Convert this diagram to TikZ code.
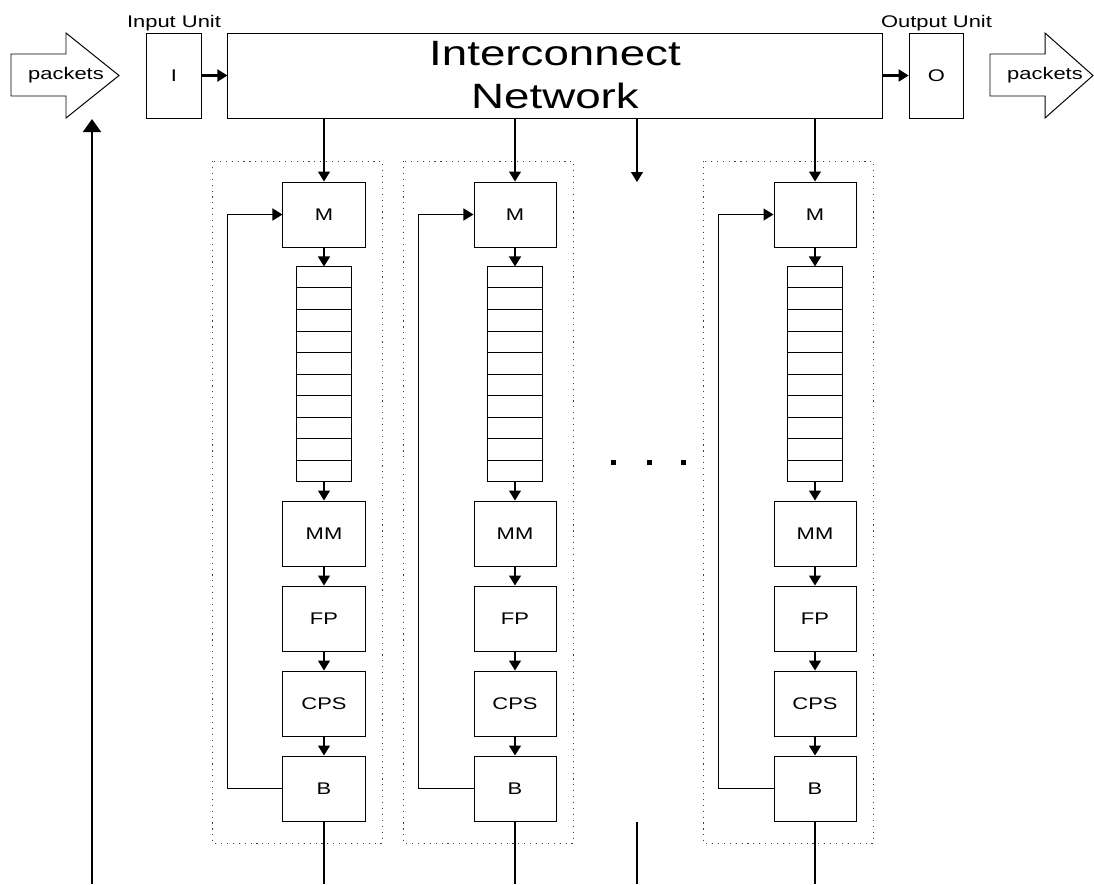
\documentclass[tikz,border=0pt]{standalone}
\usepackage{fontspec}
\setmainfont[FakeStretch=1.3]{Liberation Sans}
\usetikzlibrary{arrows.meta,calc,positioning}

\begin{document}
\begin{tikzpicture}[x=0.025cm,y=-0.025cm,
      font=\fontsize{12}{14}\selectfont,
      >={Triangle[length=0.25cm,width=0.3cm]},
      blk/.style={draw,line width=0.7pt,minimum width=2.05cm,minimum height=1.625cm,inner sep=0pt},
      unit/.style={draw,line width=0.7pt,minimum width=1.37cm,minimum height=2.125cm,inner sep=0pt},
      lnk/.style={line width=1pt},
      grp/.style={line width=0.6pt,dash pattern=on 0.8pt off 3.4pt,black!75}]
    \useasboundingbox (0,0) rectangle (1094,884);
    \coordinate (bot) at (0,884);
    % --- input / output ---
    \draw[line width=0.7pt] (11,54) -- (66,54) -- (66,33) -- (119,75.5) -- (66,118) -- (66,96) -- (11,96) -- cycle;
    \node (pin) at (66,75.5) {packets};
    \node[unit] (in) at (174,75.5) {I};
    \node[inner sep=0pt,above=0.04cm of in] (inlbl) {Input Unit};
    \node[draw,line width=0.7pt,minimum width=16.35cm,minimum height=2.125cm,align=center,
      font=\fontsize{25}{30.5}\selectfont] (net) at (555,75.5) {Interconnect\\Network};
    \node[unit] (out) at (936.5,75.5) {O};
    \node[inner sep=0pt,above=0.04cm of out] (outlbl) {Output Unit};
    \draw[line width=0.7pt] (990,54) -- (1045,54) -- (1045,33) -- (1093,75.5) -- (1045,118) -- (1045,96) -- (990,96) -- cycle;
    \node (pout) at (1045,75.5) {packets};
    \draw[->,line width=1.5pt] (in) -- (net);
    \draw[->,line width=1.5pt] (net) -- (out);
    % feedback of packets
    \coordinate (upbot) at (92,884);
    \coordinate (uptop) at (92,119);
    \draw[-{Triangle[length=0.33cm,width=0.45cm]},line width=2.1pt] (upbot) -- (uptop);
    % --- processing columns ---
    \foreach \c/\x in {1/324,2/515,3/815} {
      \draw[grp] ({\x-112},161) rectangle ({\x+58},843);
      \node[blk] (m\c) at (\x,214.5) {M};
      \node[draw,line width=0.7pt,minimum width=1.375cm,minimum height=5.35cm,inner sep=0pt] (q\c) at (\x,374) {};
      \foreach \k in {1,...,9}
        \draw[line width=0.7pt] ($(q\c.north west)!\k/10!(q\c.south west)$) -- ($(q\c.north east)!\k/10!(q\c.south east)$);
      \node[blk] (mm\c) at (\x,533.5) {MM};
      \node[blk] (fp\c) at (\x,618.5) {FP};
      \node[blk] (cps\c) at (\x,703.5) {CPS};
      \node[blk] (b\c) at (\x,788.5) {B};
      \draw[->,lnk] (net.south -| m\c.north) -- (m\c);
      \draw[->,lnk] (m\c) -- (q\c);
      \draw[->,lnk] (q\c) -- (mm\c);
      \draw[->,lnk] (mm\c) -- (fp\c);
      \draw[->,lnk] (fp\c) -- (cps\c);
      \draw[->,lnk] (cps\c) -- (b\c);
      \draw[->,lnk] (b\c.west) -- ++(-55,0) |- (m\c.west);
      \draw[lnk] (b\c.south) -- (b\c.south |- bot);
    }
    % more columns
    \coordinate (midin) at (637,182);
    \draw[->,lnk] (net.south -| midin) -- (midin);
    \foreach \d in {613,649,683} \fill (\d-2.5,459.5) rectangle (\d+2.5,464.5);
    \coordinate (midtop) at (637,822);
    \draw[lnk] (midtop) -- (midtop |- bot);
  \end{tikzpicture}
\end{document}
